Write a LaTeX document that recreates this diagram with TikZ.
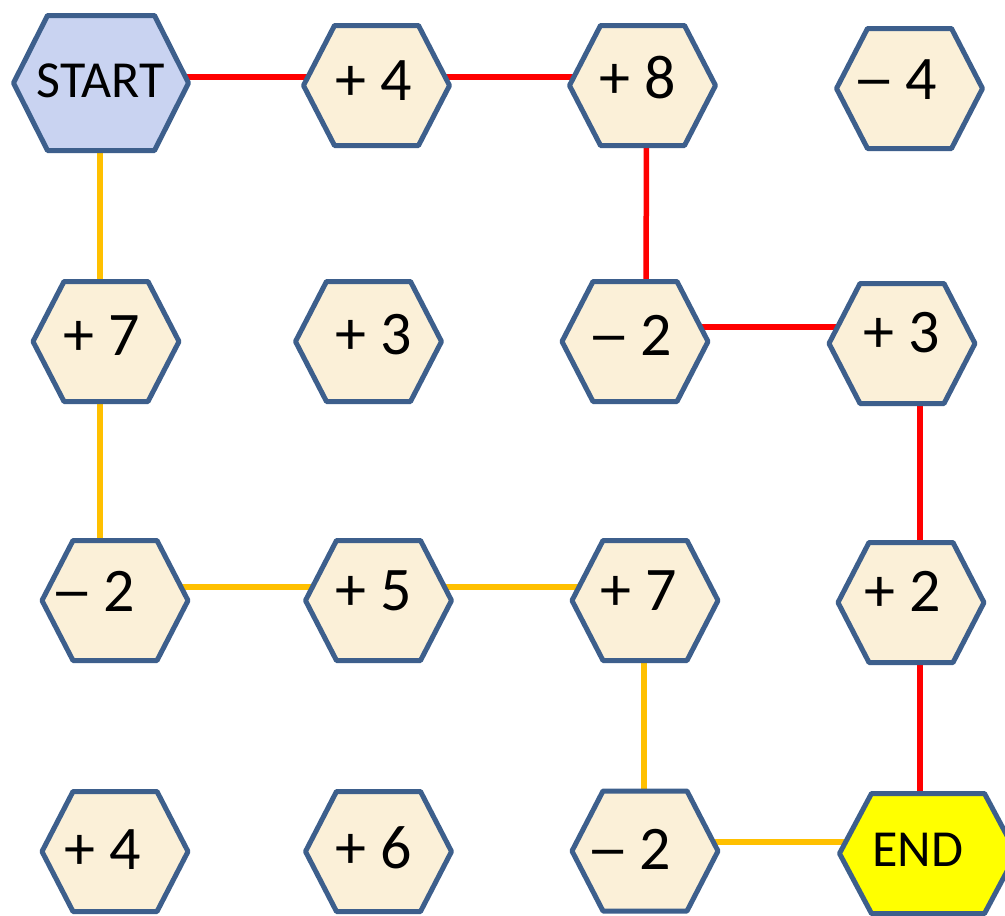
\documentclass[tikz,border=0pt]{standalone}
\usepackage{fontspec}
\setmainfont{Carlito}
\usetikzlibrary{backgrounds}
\definecolor{hexblue}{HTML}{3D5F8C}
\definecolor{cream}{HTML}{FBF0D8}
\definecolor{startblue}{HTML}{C9D3F1}
\definecolor{endyellow}{HTML}{FFFF00}
\definecolor{pathred}{HTML}{FF0000}
\definecolor{pathgold}{HTML}{FFC000}
\tikzset{
  hexborder/.style={draw=hexblue,line width=5pt,line join=round},
  numtxt/.style={inner sep=0pt,text height=40pt,text depth=12pt,font=\fontsize{62}{70}\selectfont},
  wordtxt/.style={numtxt,font=\fontsize{52}{60}\selectfont},
  redlink/.style={draw=pathred,line width=5.5pt},
  goldlink/.style={draw=pathgold,line width=5.5pt}
}
% #1 fill, #2 x, #3 y, #4 half width, #5 half height, #6 slant
\newcommand\hexshape[6]{\draw[hexborder,fill=#1] ({#2-#4},{#3}) -- ({#2-#4+#6},{#3-#5}) -- ({#2+#4-#6},{#3-#5}) -- ({#2+#4},{#3}) -- ({#2+#4-#6},{#3+#5}) -- ({#2-#4+#6},{#3+#5}) -- cycle;}
\newcommand\stdhex[2]{\hexshape{cream}{#1}{#2}{73}{60}{31}}
% #1 horizontal offset, #2 raise, #3 text
\newcommand\hextext[3]{\makebox[0pt]{\kern#1pt\kern#1pt\raisebox{#2pt}{#3}}}
\newcommand\wdash{\scalebox{1.4}[1]{–}\kern10pt}
\begin{document}
\begin{tikzpicture}[x=1pt,y=-1pt]
\useasboundingbox (0,0) rectangle (1005,916);
% row 1
\hexshape{startblue}{101}{83}{87.5}{67.5}{34}
\node[wordtxt] (st) at (101,83) {\hextext{-0.5}{0}{START}};
\stdhex{376.5}{85.5}
\node[numtxt] (a4) at (376.5,85.5) {\hextext{-2.5}{-0.5}{+ 4}};
\stdhex{642.5}{85.5}
\node[numtxt] (a8) at (642.5,85.5) {\hextext{-4.5}{1}{+ 8}};
\stdhex{909.5}{88.5}
\node[numtxt] (am4) at (909.5,88.5) {\hextext{-15}{3.5}{\wdash 4}};
% row 2
\stdhex{106}{341.5}
\node[numtxt] (b1) at (106,341.5) {\hextext{-4}{0.5}{+ 7}};
\stdhex{368.5}{341.5}
\node[numtxt] (b2) at (368.5,341.5) {\hextext{5}{1}{+ 3}};
\stdhex{635}{341.5}
\node[numtxt] (b3) at (635,341.5) {\hextext{-5.5}{0.5}{\wdash 2}};
\stdhex{902}{343.5}
\node[numtxt] (b4) at (902,343.5) {\hextext{0}{5.5}{+ 3}};
% row 3
\stdhex{115}{600.5}
\node[numtxt] (c1) at (115,600.5) {\hextext{-22}{3}{\wdash 2}};
\stdhex{378.5}{600.5}
\node[numtxt] (c2) at (378.5,600.5) {\hextext{-5}{4.5}{+ 5}};
\stdhex{645}{600.5}
\node[numtxt] (c3) at (645,600.5) {\hextext{-6.5}{4}{+ 7}};
\stdhex{911}{602.5}
\node[numtxt] (c4) at (911,602.5) {\hextext{-8}{5}{+ 2}};
% row 4
\stdhex{115}{851.5}
\node[numtxt] (d1) at (115,851.5) {\hextext{-12.5}{-3.5}{+ 4}};
\stdhex{378.5}{851.5}
\node[numtxt] (d2) at (378.5,851.5) {\hextext{-4.5}{-3}{+ 6}};
\stdhex{645}{851}
\node[numtxt] (d3) at (645,851) {\hextext{-16}{-4}{\wdash 2}};
\hexshape{endyellow}{928}{853.5}{88.5}{60}{32}
\node[wordtxt] (en) at (928,853.5) {\hextext{-10.5}{1}{END}};
% connectors
\begin{scope}[on background layer]
\fill[white] (0,0) rectangle (1005,916);
\draw[redlink] ([yshift=6pt]st.center) -- ([yshift=8.5pt]a4.center);
\draw[redlink] ([yshift=8.5pt]a4.center) -- ([xshift=4pt,yshift=8.5pt]a8.center);
\draw[redlink] ([xshift=4pt]a8.center) -- ([xshift=11pt]b3.center);
\draw[redlink] ([xshift=11pt,yshift=14.5pt]b3.center) -- ([xshift=18pt,yshift=16.5pt]b4.center);
\draw[redlink] ([xshift=18pt]b4.center) -- ([xshift=9pt]c4.center);
\draw[redlink] ([xshift=9pt]c4.center) -- ([xshift=-8pt]en.center);
\draw[goldlink] ([xshift=-1pt]st.center) -- ([xshift=-6pt]b1.center);
\draw[goldlink] ([xshift=-6pt]b1.center) -- ([xshift=-15pt]c1.center);
\draw[goldlink] ([xshift=-15pt,yshift=13.5pt]c1.center) -- ([yshift=13.5pt]c2.center);
\draw[goldlink] ([yshift=13.5pt]c2.center) -- ([xshift=-1pt,yshift=13.5pt]c3.center);
\draw[goldlink] ([xshift=-1pt]c3.center) -- ([xshift=-1pt]d3.center);
\draw[goldlink] ([xshift=-1pt,yshift=9pt]d3.center) -- ([yshift=11.5pt]en.center);
\end{scope}
\end{tikzpicture}
\end{document}
